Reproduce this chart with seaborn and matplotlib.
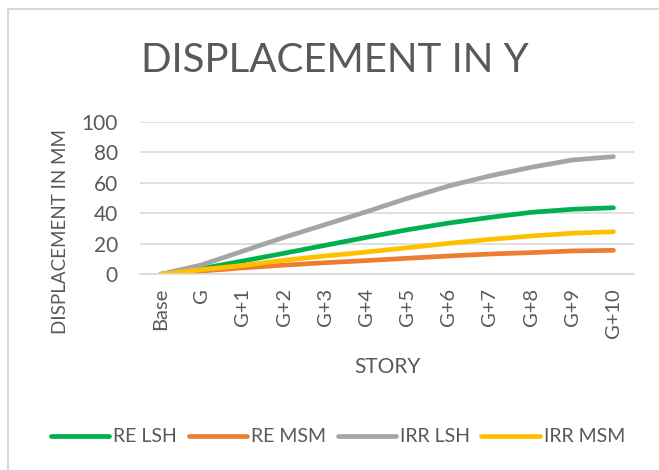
import matplotlib
matplotlib.use("Agg")
import matplotlib.pyplot as plt
from matplotlib.patches import Rectangle
import seaborn as sns
import pandas as pd

stories = ["Base", "G", "G+1", "G+2", "G+3", "G+4", "G+5", "G+6", "G+7", "G+8", "G+9", "G+10"]
re_lsh = [0, 3.8, 8.7, 13.8, 19.0, 24.2, 29.2, 33.6, 37.3, 40.6, 42.6, 43.6]
re_msm = [0, 2.2, 4.2, 6.0, 7.6, 9.0, 10.5, 12.0, 13.3, 14.2, 15.3, 15.7]
irr_lsh = [0, 6.2, 15.2, 24.2, 32.6, 41.0, 49.8, 57.9, 64.5, 70.1, 74.9, 77.1]
irr_msm = [0, 3.1, 5.8, 9.2, 12.0, 14.6, 17.4, 20.3, 22.9, 25.1, 26.9, 27.9]
series_names = ["RE LSH", "RE MSM", "IRR LSH", "IRR MSM"]
colors = ["#00B050", "#ED7D31", "#A5A5A5", "#FFC000"]
yticks = [0, 20, 40, 60, 80, 100]

rows = []
for name, vals in zip(series_names, [re_lsh, re_msm, irr_lsh, irr_msm]):
    for i, (s, v) in enumerate(zip(stories, vals)):
        rows.append({"idx": i, "story": s, "value": v, "series": name})
df = pd.DataFrame(rows)

sns.set_theme(style="white")
plt.rcParams["font.family"] = ["Lato", "DejaVu Sans"]
txt = "#595959"

W, H = 659, 470
fig = plt.figure(figsize=(W / 100, H / 100), dpi=100)
fig.patch.set_facecolor("white")
fig.patches.append(Rectangle((8 / W, -0.1), 1.2, 1 - 9 / H + 0.1, transform=fig.transFigure,
                             fill=False, edgecolor="#D9D9D9", linewidth=1.5))

ax = fig.add_axes([140 / W, 1 - 274.3 / H, 494 / W, 152.6 / H])
sns.lineplot(data=df, x="idx", y="value", hue="series", palette=colors,
             hue_order=series_names, linewidth=3.4, ax=ax, legend=False,
             solid_capstyle="round")
ax.set_xlim(-0.5, 11.5)
ax.set_ylim(0, 100)
ax.set_yticks(yticks)
ax.set_yticklabels([str(t) for t in yticks], color=txt, fontsize=15)
ax.set_xticks(range(len(stories)))
ax.set_xticklabels(stories, rotation=90, color=txt, fontsize=14.5)
ax.tick_params(axis="y", length=0, pad=16)
ax.tick_params(axis="x", length=0, pad=10)
ax.grid(axis="y", color="#D9D9D9", linewidth=1.2)
ax.set_axisbelow(True)
for sp in ["top", "right", "left"]:
    ax.spines[sp].set_visible(False)
ax.spines["bottom"].set_color("#D9D9D9")
ax.spines["bottom"].set_linewidth(1.2)
ax.set_xlabel("")
ax.set_ylabel("")

fig.text(335 / W, 1 - 61 / H, "DISPLACEMENT IN Y", ha="center", va="center",
         fontsize=29, color=txt)
fig.text(60 / W, 1 - 231 / H, "DISPLACEMENT IN MM", ha="center", va="center",
         rotation=90, fontsize=13.5, color=txt)
fig.text(387 / W, 1 - 367 / H, "STORY", ha="center", va="center", fontsize=15, color=txt)

handles = [plt.Line2D([], [], color=c, linewidth=3.4, solid_capstyle="round") for c in colors]
fig.legend(handles, series_names, loc="center", bbox_to_anchor=(338 / W, 1 - 437 / H),
           ncol=4, frameon=False, fontsize=14, handlelength=3.0, handletextpad=0.2,
           columnspacing=0.6, labelcolor=txt)

fig.savefig("out.png", dpi=100)
